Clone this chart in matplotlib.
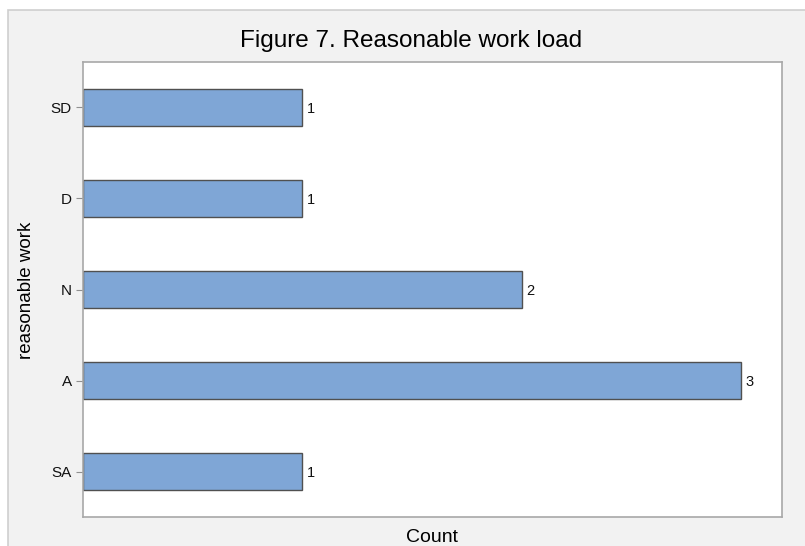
import matplotlib.pyplot as plt
from matplotlib.patches import Rectangle

plt.rcParams['font.family'] = ['Liberation Sans', 'DejaVu Sans']

# data
categories = ["SD", "D", "N", "A", "SA"]
counts = [1, 1, 2, 3, 1]

fig = plt.figure(figsize=(8.05, 5.46), dpi=100)
fig.patch.set_facecolor("white")

# light gray panel behind everything
panel = Rectangle((8 / 805, -0.01), 1.0, 1 - 10 / 546 + 0.01, transform=fig.transFigure,
                  facecolor="#f2f2f2", edgecolor="#cfcfcf", linewidth=1.2, zorder=-5)
fig.patches.append(panel)

ax = fig.add_axes([83 / 805, 1 - 517 / 546, (782 - 83) / 805, (517 - 62) / 546])
ax.set_zorder(1)
ax.set_facecolor("white")

ypos = list(range(len(categories)))
bars = ax.barh(ypos, counts, height=0.41, color="#7fa6d6", edgecolor="#505050", linewidth=1.0)
for y, c in zip(ypos, counts):
    ax.text(c + 0.018, y, str(c), va="center_baseline", ha="left", fontsize=10.5, color="#111111")

ax.set_yticks(ypos)
ax.set_yticklabels(categories, fontsize=11, color="#111111")
ax.set_ylim(len(categories) - 0.5, -0.5)
ax.set_xlim(0, 3.185)
ax.set_xticks([])
ax.tick_params(axis="y", length=5, color="#909090", pad=3)

for s in ax.spines.values():
    s.set_color("#a8a8a8")
    s.set_linewidth(1.2)

fig.text(432 / 805, 1 - 537 / 546, "Count", ha="center", va="center", fontsize=14)
fig.text(27 / 805, 1 - 290 / 546, "reasonable work", ha="center", va="center",
         rotation=90, fontsize=13.5)
fig.text(411 / 805, 1 - 41 / 546, "Figure 7. Reasonable work load",
         ha="center", va="center", fontsize=17.5)

fig.savefig("out.png", dpi=100)
